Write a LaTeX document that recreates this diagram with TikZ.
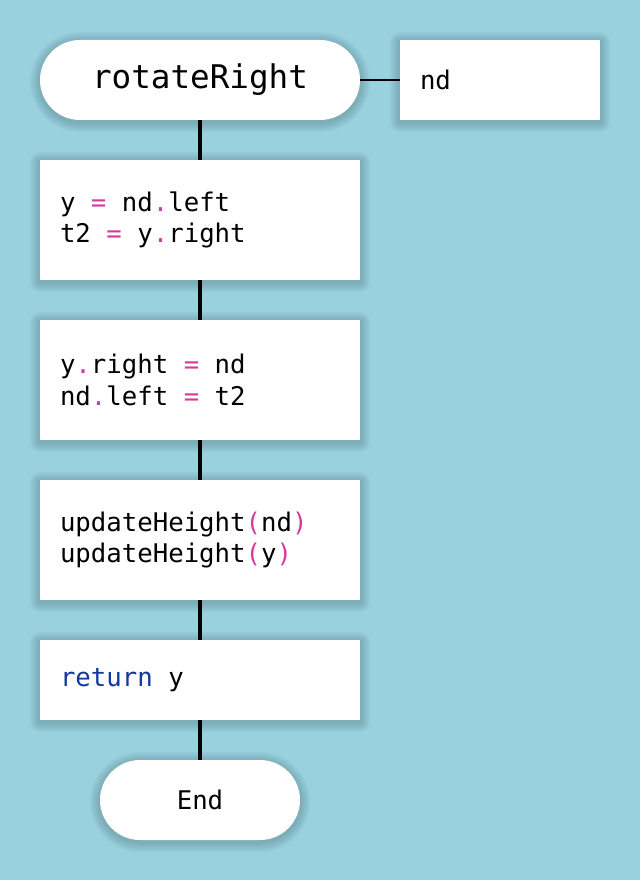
\documentclass[tikz,border=0pt]{standalone}
\usepackage{fontspec}
\setmainfont{DejaVu Sans Mono}
\usetikzlibrary{calc}
\pgfdeclarelayer{bottom}
\pgfdeclarelayer{shadowlayer}
\pgfsetlayers{bottom,shadowlayer,main}
\definecolor{bg}{RGB}{153,209,223}
\definecolor{op}{RGB}{214,58,160}
\definecolor{kw}{RGB}{16,56,160}
\newcommand{\opc}[1]{\textcolor{op}{#1}}
\newcommand{\ws}{\hspace*{0.602em}}
\newcommand{\codefont}{\fontsize{25.7}{31.5}\selectfont}
\newcommand{\softshadow}[2]{%
  \begin{pgfonlayer}{shadowlayer}
  \foreach \i in {1,...,10}{
    \fill[black, opacity=0.017, rounded corners={#2+\i*1pt}]
      ($(#1.south west)+(-\i,-\i-2)$) rectangle ($(#1.north east)+(\i,\i-2)$);
  }
  \end{pgfonlayer}}
\tikzset{
  x=1pt, y=1pt,
  term/.style={shape=rectangle, rounded corners=40pt, fill=white, minimum height=80pt, inner sep=0pt},
  codebox/.style={shape=rectangle, fill=white, minimum width=320pt, inner xsep=20pt, inner ysep=0pt, text width=280pt, align=left, font=\codefont},
  flow/.style={line width=3.5pt, black},
  thin/.style={line width=1.5pt, black}
}
\begin{document}
\begin{tikzpicture}
\begin{pgfonlayer}{bottom}
\fill[bg] (0,0) rectangle (640,-880);
\end{pgfonlayer}
\useasboundingbox (0,0) rectangle (640,-880);
\node[term, minimum width=320pt, font=\fontsize{32.6}{38}\selectfont] (start) at (200,-80) {rotateRight};
\node[codebox, minimum width=200pt, text width=160pt, minimum height=80pt] (arg) at (500,-80) {nd};
\node[codebox, minimum height=120pt] (b1) at (200,-220) {y\ws\opc{=}\ws nd\opc{.}left\\t2\ws\opc{=}\ws y\opc{.}right};
\node[codebox, minimum height=120pt] (b2) at (200,-380) {y\opc{.}right\ws\opc{=}\ws nd\\nd\opc{.}left\ws\opc{=}\ws t2};
\node[codebox, minimum height=120pt] (b3) at (200,-540) {updateHeight\opc{(}nd\opc{)}\\updateHeight\opc{(}y\opc{)}};
\node[codebox, minimum height=80pt] (b4) at (200,-680) {\textcolor{kw}{return}\ws y};
\node[term, minimum width=200pt, font=\codefont] (end) at (200,-800) {End};
\softshadow{start}{40pt}
\softshadow{arg}{0pt}
\softshadow{b1}{0pt}
\softshadow{b2}{0pt}
\softshadow{b3}{0pt}
\softshadow{b4}{0pt}
\softshadow{end}{40pt}
\draw[thin] (start.east) -- (arg.west);
\draw[flow] (start.south) -- (b1.north);
\draw[flow] (b1.south) -- (b2.north);
\draw[flow] (b2.south) -- (b3.north);
\draw[flow] (b3.south) -- (b4.north);
\draw[flow] (b4.south) -- (end.north);
\end{tikzpicture}
\end{document}
